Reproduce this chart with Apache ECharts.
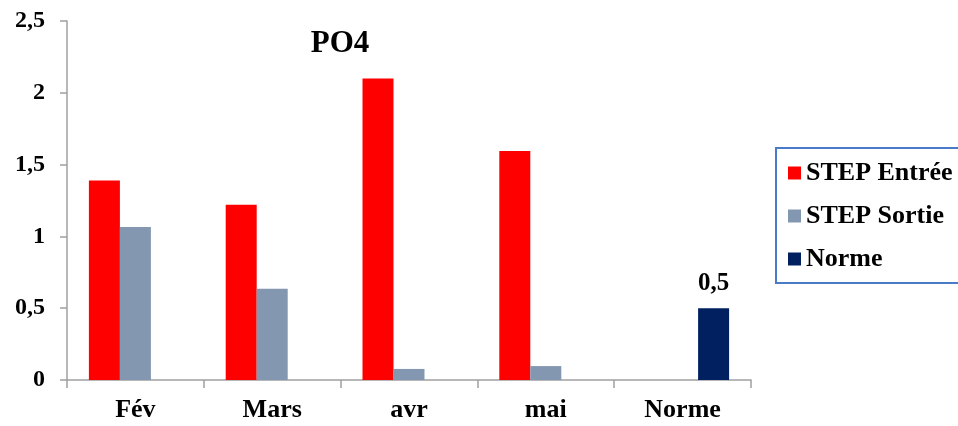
<!DOCTYPE html>
<html>
<head>
<meta charset="utf-8">
<script src="https://cdn.jsdelivr.net/npm/echarts@6/dist/echarts.min.js"></script>
<style>html,body{margin:0;padding:0;background:#fff}#c{width:958px;height:426px}</style>
</head>
<body>
<div id="c"></div>
<script>
const categories = ['Fév', 'Mars', 'avr', 'mai', 'Norme'];
const entree = [1.39, 1.22, 2.1, 1.595, '-'];
const sortie = [1.065, 0.635, 0.077, 0.097, '-'];
const norme = ['-', '-', '-', '-', 0.5];
const yTicks = [0, 0.5, 1, 1.5, 2, 2.5];

const font = 'Liberation Serif, Times New Roman, serif';
const fmt = v => String(v).replace('.', ',');
const chart = echarts.init(document.getElementById('c'));
chart.setOption({
  animation: false,
  title: {
    text: 'PO4', left: 335, top: 23, textAlign: 'center',
    textStyle: { fontFamily: font, fontWeight: 'bold', fontSize: 31, color: '#000' }
  },
  legend: {
    orient: 'vertical', left: 776, top: 148,
    padding: [12, 40, 11, 12], itemGap: 17,
    itemWidth: 13, itemHeight: 13, icon: 'rect',
    borderColor: '#4a7bc8', borderWidth: 2,
    textStyle: { fontFamily: font, fontWeight: 'bold', fontSize: 26, color: '#000' },
    data: ['STEP Entrée', 'STEP Sortie', 'Norme']
  },
  grid: { left: 67, right: 207, top: 21, bottom: 46 },
  xAxis: {
    type: 'category', data: categories,
    axisLine: { lineStyle: { color: '#a0a0a0', width: 1.5 } },
    axisTick: { show: true, length: 8, lineStyle: { color: '#a0a0a0', width: 1.5 } },
    axisLabel: { margin: 17, fontFamily: font, fontWeight: 'bold', fontSize: 26, color: '#000' }
  },
  yAxis: {
    type: 'value', min: yTicks[0], max: yTicks[yTicks.length - 1], interval: 0.5,
    splitLine: { show: false },
    axisLine: { show: true, lineStyle: { color: '#a0a0a0', width: 1.5 } },
    axisTick: { show: true, length: 7, lineStyle: { color: '#a0a0a0', width: 1.5 } },
    axisLabel: { margin: 22, formatter: fmt, fontFamily: font, fontWeight: 'bold', fontSize: 24, color: '#000' }
  },
  series: [
    { name: 'STEP Entrée', type: 'bar', data: entree, barWidth: 31, barGap: '0%', itemStyle: { color: '#ff0000' } },
    { name: 'STEP Sortie', type: 'bar', data: sortie, barWidth: 31, barGap: '0%', itemStyle: { color: '#8497b0' } },
    { name: 'Norme', type: 'bar', data: norme, barWidth: 31, barGap: '0%', itemStyle: { color: '#002060' },
      label: { show: true, position: 'top', distance: 12, formatter: p => fmt(p.value),
        fontFamily: font, fontWeight: 'bold', fontSize: 25, color: '#000' } }
  ]
});
</script>
</body>
</html>
